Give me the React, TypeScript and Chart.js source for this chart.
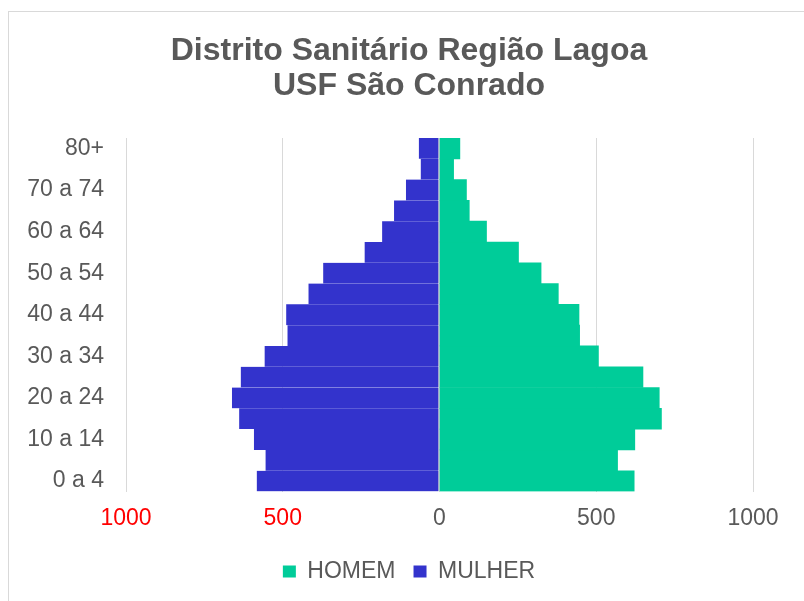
import React, { useEffect, useRef } from 'react';
import { Chart, registerables } from 'chart.js';

Chart.register(...registerables);

const ageGroups = [
  '0 a 4', '5 a 9', '10 a 14', '15 a 19', '20 a 24', '25 a 29', '30 a 34', '35 a 39',
  '40 a 44', '45 a 49', '50 a 54', '55 a 59', '60 a 64', '65 a 69', '70 a 74', '75 a 79', '80+',
];
const homem = [621, 568, 623, 708, 701, 649, 507, 447, 445, 379, 324, 252, 150, 95, 86, 45, 65];
const mulher = [583, 555, 592, 639, 662, 634, 558, 485, 489, 418, 371, 239, 183, 145, 107, 60, 66];
const xMin = -1000;
const xMax = 1000;
const xStep = 500;

const FONT = "'Liberation Sans', Arial, sans-serif";
const GREY = '#595959';

export default function App() {
  const ref = useRef<HTMLCanvasElement>(null);

  useEffect(() => {
    const chart = new Chart(ref.current as HTMLCanvasElement, {
      type: 'bar',
      data: {
        labels: ageGroups,
        datasets: [
          {
            label: 'HOMEM',
            data: homem,
            backgroundColor: '#00CC99',
            borderWidth: 0,
            barPercentage: 1,
            categoryPercentage: 1,
          },
          {
            label: 'MULHER',
            data: mulher.map((v) => -v),
            backgroundColor: '#3333CC',
            borderColor: '#d9d9d9',
            borderWidth: { top: 0, bottom: 0, left: 0, right: 1 },
            borderSkipped: false,
            barPercentage: 1,
            categoryPercentage: 1,
          },
        ],
      },
      options: {
        indexAxis: 'y',
        animation: false,
        responsive: false,
        layout: { padding: { left: 10, right: 10, top: 0, bottom: 17 } },
        plugins: {
          title: {
            display: true,
            text: ['Distrito Sanitário Região Lagoa', 'USF São Conrado'],
            color: GREY,
            font: { family: FONT, size: 32, weight: 'bold', lineHeight: 1.094 },
            padding: { top: 21.5, bottom: 34.5 },
          },
          legend: {
            position: 'bottom',
            labels: {
              boxWidth: 13,
              boxHeight: 12,
              padding: 18,
              color: GREY,
              font: { family: FONT, size: 23 },
              generateLabels: (c: any) =>
                Chart.defaults.plugins.legend.labels
                  .generateLabels(c)
                  .map((l: any) => ({ ...l, lineWidth: 0, strokeStyle: 'rgba(0,0,0,0)' })),
            },
          },
          tooltip: { enabled: false },
        },
        scales: {
          x: {
            type: 'linear',
            stacked: true,
            min: xMin,
            max: xMax,
            grid: { color: '#d9d9d9', lineWidth: 1, drawTicks: false },
            border: { display: false },
            ticks: {
              stepSize: xStep,
              padding: 13,
              font: { family: FONT, size: 23 },
              color: (ctx: any) => (ctx.tick && ctx.tick.value < 0 ? '#FF0000' : GREY),
              callback: (v: any) => String(Math.abs(Number(v))),
            },
            afterFit: (s: any) => {
              s.height = 50.5;
            },
          },
          y: {
            type: 'category',
            stacked: true,
            reverse: true,
            grid: { display: false, drawTicks: false },
            border: { display: false },
            ticks: {
              autoSkip: false,
              padding: 22,
              color: GREY,
              font: { family: FONT, size: 23 },
              callback: (_v: any, i: number) => (i % 2 === 0 ? ageGroups[i] : ''),
            },
            afterFit: (s: any) => {
              s.width = 107;
            },
          },
          yRight: {
            type: 'linear',
            position: 'right',
            display: true,
            grid: { display: false, drawTicks: false },
            border: { display: false },
            ticks: { display: false },
            afterFit: (s: any) => {
              s.width = 46;
            },
          },
        },
      },
    } as any);
    return () => chart.destroy();
  }, []);

  return (
    <div
      style={{
        position: 'fixed',
        left: 8,
        top: 11,
        width: 796,
        height: 590,
        overflow: 'hidden',
        background: '#fff',
      }}
    >
      <div style={{ width: 802, height: 600, border: '1px solid #d9d9d9', boxSizing: 'border-box' }}>
        <canvas ref={ref} width={800} height={598} style={{ display: 'block', width: 800, height: 598 }} />
      </div>
    </div>
  );
}
